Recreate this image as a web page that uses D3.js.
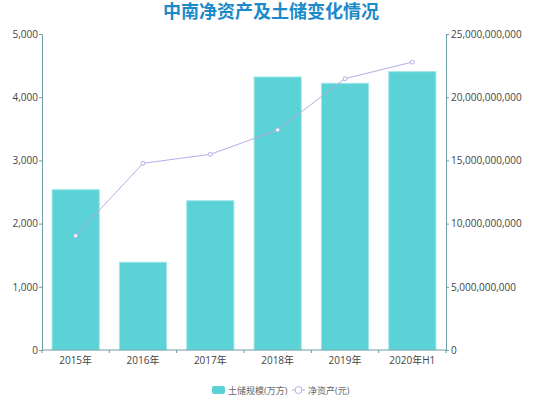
<!DOCTYPE html>
<html>
<head>
<meta charset="utf-8">
<script src="https://cdn.jsdelivr.net/npm/d3@7"></script>
<style>
  body { margin: 0; background: #fff; }
  text { font-family: "Open Sans", "Noto Sans CJK SC", sans-serif; }
</style>
</head>
<body>
<svg></svg>
<script>
const categories = ['2015年', '2016年', '2017年', '2018年', '2019年', '2020年H1'];
const landBank = [2536, 1388, 2362, 4320, 4220, 4404];           // 土储规模(万方)
const netAssets = [9.04e9, 14.77e9, 15.48e9, 17.41e9, 21.47e9, 22.78e9]; // 净资产(元)
const leftTicks = [0, 1000, 2000, 3000, 4000, 5000];
const rightTicks = [0, 5e9, 10e9, 15e9, 20e9, 25e9];

const size = {w: 553, h: 399};
const m = {t: 34, r: 107, b: 49, l: 42};
const svg = d3.select('svg').attr('width', size.w).attr('height', size.h);

const axisColor = '#6e9ea6';
const barColor = '#5ad2d6';
const lineColor = '#b9ace6';

const x = d3.scaleBand()
    .domain(categories)
    .range([m.l, size.w - m.r])
    .paddingInner(0.3)
    .paddingOuter(0.15);

const yL = d3.scaleLinear().domain([0, 5000]).range([size.h - m.b, m.t]);
const yR = d3.scaleLinear().domain([0, 25e9]).range([size.h - m.b, m.t]);

// title
svg.append('text')
    .attr('x', 271).attr('y', 18)
    .attr('text-anchor', 'middle')
    .attr('fill', '#1b8acb')
    .style('font-size', '18px')
    .style('font-weight', 'bold')
    .text('中南净资产及土储变化情况');

// bars
svg.append('g').selectAll('rect')
    .data(landBank)
    .join('rect')
    .attr('x', (d, i) => x(categories[i]))
    .attr('width', x.bandwidth())
    .attr('y', d => yL(d))
    .attr('height', d => yL(0) - yL(d))
    .attr('fill', barColor)
    .attr('stroke', '#9fe6e8')
    .attr('stroke-width', 1);

// axes
const fmt = d3.format(',');
const left = svg.append('g')
    .attr('transform', `translate(${m.l},0)`)
    .call(d3.axisLeft(yL).tickValues(leftTicks).tickFormat(fmt).tickSize(3).tickSizeOuter(0));
const right = svg.append('g')
    .attr('transform', `translate(${size.w - m.r},0)`)
    .call(d3.axisRight(yR).tickValues(rightTicks).tickFormat(fmt).tickSize(3).tickSizeOuter(0));

const bandStep = (size.w - m.r - m.l) / categories.length;
const bottom = svg.append('g')
    .attr('transform', `translate(0,${size.h - m.b})`);
bottom.append('line')
    .attr('x1', m.l).attr('x2', size.w - m.r)
    .attr('stroke', axisColor);
bottom.selectAll('.tk')
    .data(d3.range(categories.length + 1))
    .join('line')
    .attr('x1', i => m.l + i * bandStep).attr('x2', i => m.l + i * bandStep)
    .attr('y1', 0).attr('y2', 3)
    .attr('stroke', axisColor);
bottom.selectAll('.lb')
    .data(categories)
    .join('text')
    .attr('x', d => x(d) + x.bandwidth() / 2)
    .attr('y', 14)
    .attr('text-anchor', 'middle')
    .attr('fill', '#444')
    .style('font-size', '10px')
    .text(d => d);

[left, right].forEach(g => {
    g.select('.domain').attr('stroke', axisColor);
    g.selectAll('.tick line').attr('stroke', axisColor);
    g.selectAll('.tick text').attr('fill', '#444').style('font-size', '10px');
});
left.selectAll('.tick text').attr('x', -4);
right.selectAll('.tick text').attr('x', 5);

// line
const cx = i => x(categories[i]) + x.bandwidth() / 2;
svg.append('path')
    .datum(netAssets)
    .attr('fill', 'none')
    .attr('stroke', lineColor)
    .attr('stroke-width', 1)
    .attr('d', d3.line().x((d, i) => cx(i)).y(d => yR(d)));
svg.append('g').selectAll('circle')
    .data(netAssets)
    .join('circle')
    .attr('cx', (d, i) => cx(i))
    .attr('cy', d => yR(d))
    .attr('r', 2)
    .attr('fill', '#fff')
    .attr('stroke', lineColor)
    .attr('stroke-width', 1);

// legend
const lg = svg.append('g').attr('transform', 'translate(212,390)');
lg.append('rect').attr('x', 0).attr('y', -4).attr('width', 13).attr('height', 8)
    .attr('rx', 2).attr('fill', barColor);
lg.append('text').attr('x', 16).attr('y', 3.5)
    .attr('fill', '#666').style('font-size', '9px').text('土储规模(万方)');
lg.append('line').attr('x1', 80).attr('x2', 93).attr('y1', 0).attr('y2', 0)
    .attr('stroke', lineColor).attr('stroke-width', 1);
lg.append('circle').attr('cx', 86.5).attr('cy', 0).attr('r', 3.5)
    .attr('fill', '#fff').attr('stroke', lineColor);
lg.append('text').attr('x', 96).attr('y', 3.5)
    .attr('fill', '#666').style('font-size', '9px').text('净资产(元)');
</script>
</body>
</html>
